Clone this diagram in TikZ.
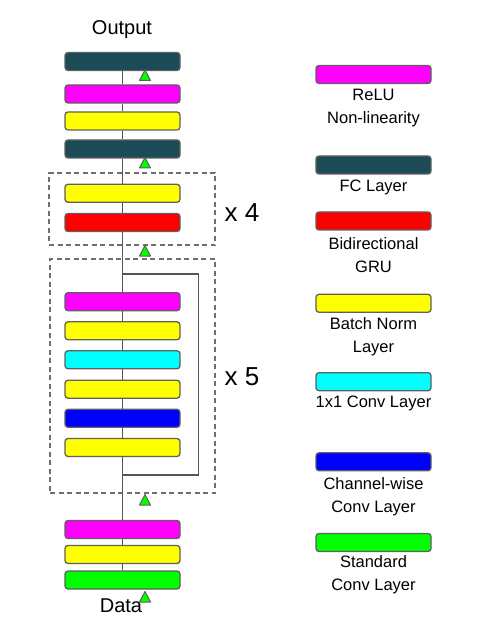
\documentclass[tikz,border=0pt]{standalone}
\usepackage{fontspec}
\setmainfont{Liberation Sans}
\definecolor{fcteal}{HTML}{1B4B56}
\definecolor{pmag}{HTML}{FF00FF}
\definecolor{pcyan}{HTML}{00FFFF}
\definecolor{pyel}{HTML}{FFFF00}
\definecolor{pgreen}{HTML}{00FF00}
\definecolor{pblue}{HTML}{0000FF}
\definecolor{pred}{HTML}{FF0000}
\definecolor{edgegray}{HTML}{5F5F5F}
\definecolor{linegray}{HTML}{555555}
\definecolor{dashgray}{HTML}{707070}
\tikzset{
  layerbox/.style={draw=edgegray, line width=1.3pt, rounded corners=3pt, minimum width=115pt, minimum height=18pt, inner sep=0pt},
  dashbox/.style={draw=dashgray, line width=1.3pt, dash pattern=on 5pt off 3.5pt, inner sep=0pt},
  legtext/.style={align=center, font=\fontsize{16.5}{23}\selectfont, inner sep=0pt},
  bigtext/.style={font=\fontsize{20}{24}\selectfont, inner sep=0pt},
  reptext/.style={font=\fontsize{26}{30}\selectfont, inner sep=0pt},
  trunk/.style={draw=linegray, line width=1.4pt},
  tri/.pic={\draw[fill=pgreen, draw=edgegray, line width=1pt, line join=round] (0,-5.5) -- (-5.5,5) -- (5.5,5) -- cycle;}
}
\begin{document}
\begin{tikzpicture}[x=1pt, y=-1pt]
\useasboundingbox (0,0) rectangle (479,617);
% dashed groups
\node[dashbox, minimum width=166pt, minimum height=72pt] (g4) at (132,209) {};
\node[dashbox, minimum width=165pt, minimum height=234pt] (g5) at (132.5,376) {};
% left column
\node[bigtext] (out) at (122,30) {Output};
\node[layerbox, fill=fcteal] (fc1) at (122.5,61.5) {};
\node[layerbox, fill=pmag] (relu1) at (122.5,94) {};
\node[layerbox, fill=pyel] (bn1) at (122.5,121) {};
\node[layerbox, fill=fcteal] (fc2) at (122.5,149) {};
\node[layerbox, fill=pyel] (bn2) at (122.5,193.3) {};
\node[layerbox, fill=pred] (gru) at (122.5,222.5) {};
\node[layerbox, fill=pmag] (relu2) at (122.5,301.7) {};
\node[layerbox, fill=pyel] (bn3) at (122.5,330.8) {};
\node[layerbox, fill=pcyan] (c11) at (122.5,359.8) {};
\node[layerbox, fill=pyel] (bn4) at (122.5,389.2) {};
\node[layerbox, fill=pblue] (cw) at (122.5,418.3) {};
\node[layerbox, fill=pyel] (bn5) at (122.5,447.5) {};
\node[layerbox, fill=pmag] (relu3) at (122.5,529.5) {};
\node[layerbox, fill=pyel] (bn6) at (122.5,554.5) {};
\node[layerbox, fill=pgreen] (conv) at (122.5,580) {};
\node[bigtext] (data) at (121,606) {Data};
\node[reptext] (x4) at (242,213) {x 4};
\node[reptext] (x5) at (242,377) {x 5};
% trunk
\coordinate (s1) at (122.5,274);
\coordinate (s2) at (122.5,475);
\coordinate (s1r) at (198.5,274);
\coordinate (s2r) at (198.5,475);
\draw[trunk] (fc1.south) -- (relu1.north);
\draw[trunk] (relu1.south) -- (bn1.north);
\draw[trunk] (bn1.south) -- (fc2.north);
\draw[trunk] (fc2.south) -- (bn2.north);
\draw[trunk] (bn2.south) -- (gru.north);
\draw[trunk] (gru.south) -- (relu2.north);
\draw[trunk] (relu2.south) -- (bn3.north);
\draw[trunk] (bn3.south) -- (c11.north);
\draw[trunk] (c11.south) -- (bn4.north);
\draw[trunk] (bn4.south) -- (cw.north);
\draw[trunk] (cw.south) -- (bn5.north);
\draw[trunk] (bn5.south) -- (relu3.north);
\draw[trunk] (relu3.south) -- (bn6.north);
\draw[trunk] (bn6.south) -- (conv.north);
\draw[trunk, line join=miter] (s1) -- (s1r) -- (s2r) -- (s2);
% triangles
\pic at (145,75.5) {tri};
\pic at (145,163) {tri};
\pic at (145,251) {tri};
\pic at (145,500) {tri};
\pic at (145,597) {tri};
% legend
\node[layerbox, fill=pmag] (lrelu) at (373.5,74.5) {};
\node[legtext] (trelu) at (373.5,108.5) {ReLU\\Non-linearity};
\node[layerbox, fill=fcteal] (lfc) at (373.5,165) {};
\node[legtext] (tfc) at (373.5,187) {FC Layer};
\node[layerbox, fill=pred] (lgru) at (373.5,221) {};
\node[legtext] (tgru) at (373.5,255) {Bidirectional\\GRU};
\node[layerbox, fill=pyel] (lbn) at (373.5,303.3) {};
\node[legtext] (tbn) at (373.5,337) {Batch Norm\\Layer};
\node[layerbox, fill=pcyan] (lc11) at (373.5,381.7) {};
\node[legtext] (tc11) at (373.5,403.5) {1x1 Conv Layer};
\node[layerbox, fill=pblue] (lcw) at (373.5,461.8) {};
\node[legtext] (tcw) at (373.5,497) {Channel-wise\\Conv Layer};
\node[layerbox, fill=pgreen] (lconv) at (373.5,542.5) {};
\node[legtext] (tconv) at (373.5,575) {Standard\\Conv Layer};
\end{tikzpicture}
\end{document}
